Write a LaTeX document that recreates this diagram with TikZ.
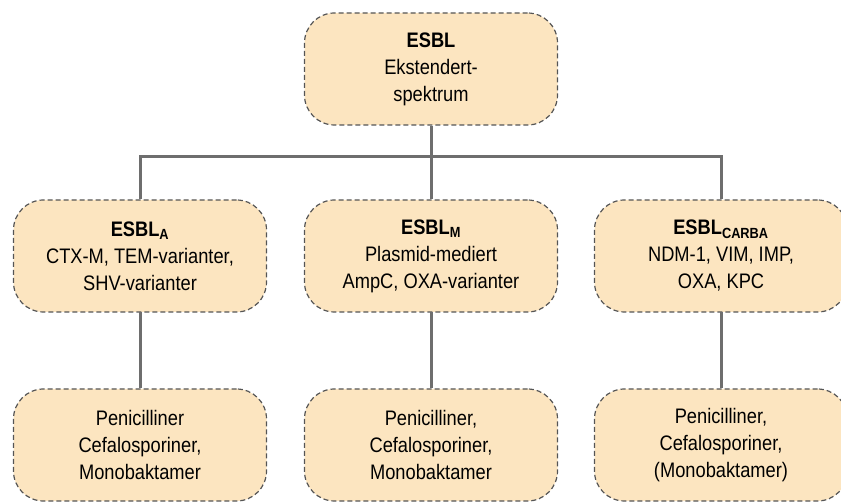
\documentclass[tikz,border=0pt]{standalone}
\usepackage{fontspec}
\setmainfont{Liberation Sans}[FakeStretch=0.87]
\definecolor{boxfill}{HTML}{FCE5C0}
\definecolor{boxline}{HTML}{555555}
\definecolor{conn}{HTML}{6E6E6E}
\tikzset{
  esbox/.style={draw=boxline, fill=boxfill, line width=1.2pt, dash pattern=on 5pt off 3pt,
    rounded corners=30pt, minimum width=253pt, minimum height=112pt, align=center,
    font=\fontsize{21}{27}\selectfont, inner sep=0pt},
  link/.style={draw=conn, line width=3pt}
}
\begin{document}
\begin{tikzpicture}[x=1pt,y=-1pt]
\useasboundingbox (0,0) rectangle (841,502);
\node[esbox] (top) at (431,69) {\textbf{ESBL}\\Ekstendert-\\spektrum};
\node[esbox] (ma) at (140,256) {\textbf{ESBL\textsubscript{A}}\\CTX-M, TEM-varianter,\\SHV-varianter};
\node[esbox] (mm) at (431,256) {\textbf{ESBL\textsubscript{M}}\\Plasmid-mediert\\AmpC, OXA-varianter};
\node[esbox] (mc) at (721,256) {\textbf{ESBL\textsubscript{CARBA}}\\NDM-1, VIM, IMP,\\OXA, KPC};
\node[esbox] (ba) at (140,445) {Penicilliner\\Cefalosporiner,\\Monobaktamer};
\node[esbox] (bm) at (431,445) {Penicilliner,\\Cefalosporiner,\\Monobaktamer};
\node[esbox] (bc) at (721,445) {Penicilliner,\\Cefalosporiner,\\(Monobaktamer)};
\coordinate (hub) at (431,157);
\draw[link] (top.south) -- (hub);
\draw[link] (ma.north) |- (hub) -| (mc.north);
\draw[link] (hub) -- (mm.north);
\draw[link] (ma) ++(0,56) -- (ba.north);
\draw[link] (mm) ++(0,56) -- (bm.north);
\draw[link] (mc) ++(0,56) -- (bc.north);
\end{tikzpicture}
\end{document}
